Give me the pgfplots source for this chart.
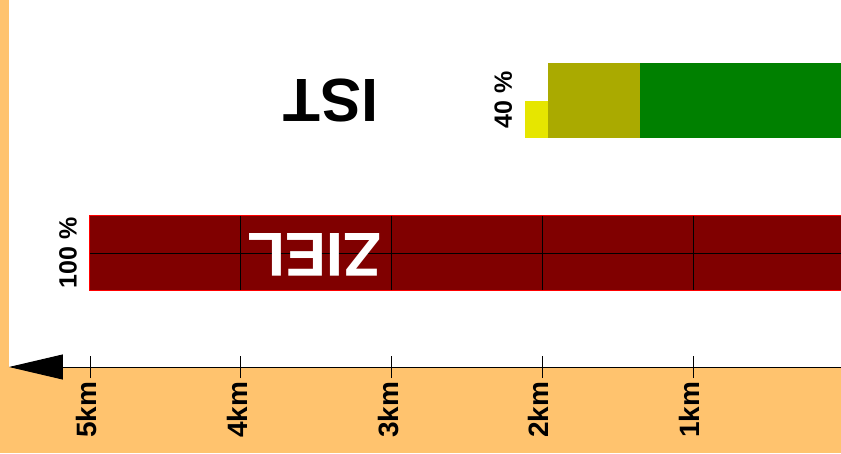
\documentclass[border=0pt]{standalone}
\usepackage{pgfplots}
\pgfplotsset{compat=1.18}
\usetikzlibrary{arrows.meta}
\usepackage{fontspec}
\setmainfont{Liberation Sans}
\definecolor{bgorange}{RGB}{255,195,110}
\definecolor{zielred}{RGB}{128,0,0}
\definecolor{istgreen}{RGB}{0,128,0}
\definecolor{istolive}{RGB}{170,170,0}
\definecolor{istyellow}{RGB}{230,230,0}
\begin{document}
\begin{tikzpicture}[x=1pt,y=1pt]
\fill[bgorange] (0,0) rectangle (841,453);
\begin{axis}[
  at={(9pt,86pt)}, anchor=south west,
  scale only axis, width=832pt, height=367pt,
  xmin=0.018, xmax=5.537, ymin=0, ymax=367,
  x dir=reverse,
  axis x line*=bottom, hide y axis,
  axis background/.style={fill=white},
  xtick={1,2,3,4,5}, xticklabels={1km,2km,3km,4km,5km},
  tick align=center, major tick length=22pt,
  tick style={black, line width=0.8pt},
  x axis line style={black, line width=1pt, -{Triangle[length=54pt,width=25pt]}},
  xticklabel style={rotate=90, anchor=mid east, yshift=-4pt, font=\bfseries\fontsize{28}{28}\selectfont},
  clip mode=individual,
]
% ZIEL bar
\addplot[fill=zielred, draw=red, line width=1pt] coordinates {(0,77) (5,77) (5,151) (0,151)} --cycle;
% grid lines in ZIEL
\addplot[black, line width=0.7pt] coordinates {(4,77) (4,151)};
\addplot[black, line width=0.7pt] coordinates {(3,77) (3,151)};
\addplot[black, line width=0.7pt] coordinates {(2,77) (2,151)};
\addplot[black, line width=0.7pt] coordinates {(1,77) (1,151)};
\addplot[black, line width=0.7pt] coordinates {(5,114) (0,114)};
% IST bars
\addplot[fill=istyellow, draw=none] coordinates {(1.96,229) (2.114,229) (2.114,266) (1.96,266)} --cycle;
\addplot[fill=istolive, draw=none] coordinates {(1.352,229) (1.964,229) (1.964,304) (1.352,304)} --cycle;
\addplot[fill=istgreen, draw=none] coordinates {(0,229) (1.352,229) (1.352,304) (0,304)} --cycle;
% labels
\node[rotate=90, font=\bfseries\fontsize{25}{25}\selectfont] at (axis cs:5.146,114) {100 \%};
\node[rotate=90, font=\bfseries\fontsize{25}{25}\selectfont] at (axis cs:2.259,267) {40 \%};
\node[rotate=180, font=\bfseries\fontsize{61}{61}\selectfont] at (axis cs:3.40,266.5) {IST};
\node[rotate=180, text=white, font=\bfseries\fontsize{62}{62}\selectfont] at (axis cs:3.51,112.5) {ZIEL};
\end{axis}
\pgfresetboundingbox
\useasboundingbox (0,0) rectangle (841,453);
\end{tikzpicture}
\end{document}
